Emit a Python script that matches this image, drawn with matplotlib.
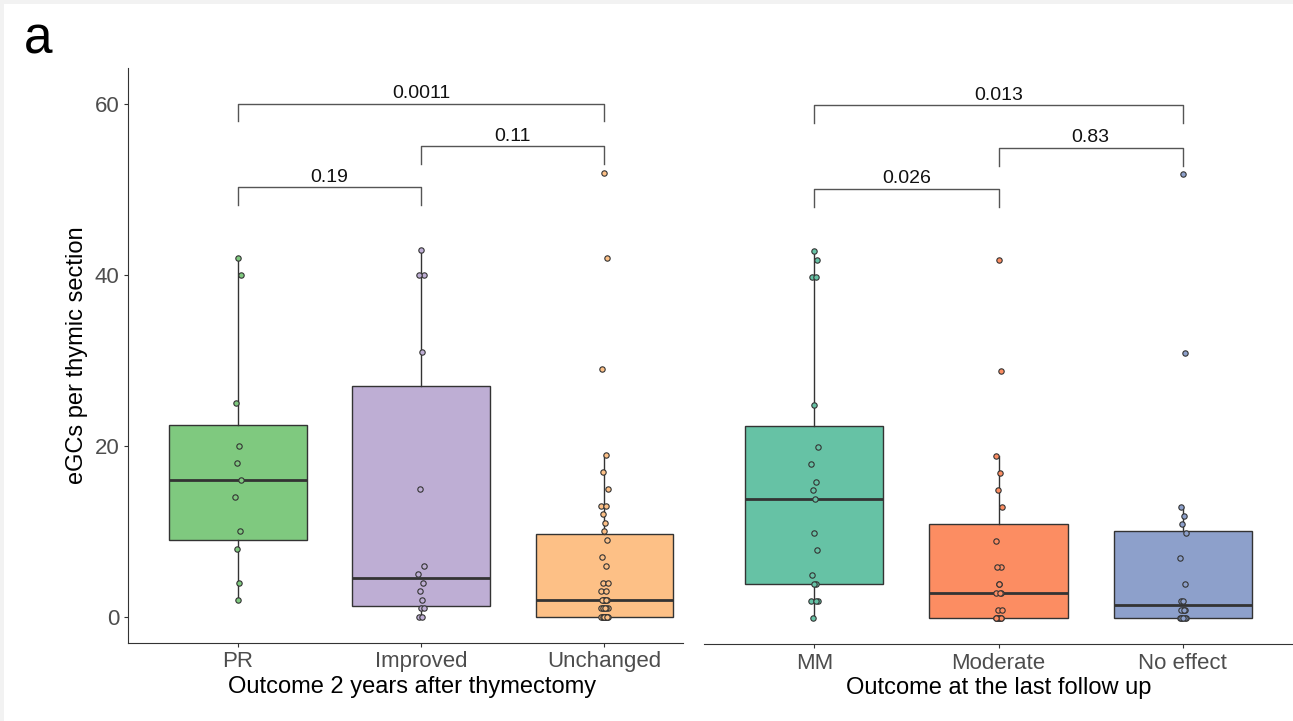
import numpy as np
import matplotlib
matplotlib.use("Agg")
import matplotlib.pyplot as plt
from matplotlib.patches import Rectangle

plt.rcParams['font.family'] = ['Liberation Sans', 'DejaVu Sans']

# eGC counts per group
pr_vals = [2, 4, 8, 10, 14, 16, 18, 20, 25, 40, 42]
improved_vals = [0, 0, 1, 1, 2, 3, 4, 5, 6, 15, 31, 40, 40, 43]
unchanged_vals = [0] * 12 + [1] * 6 + [2] * 6 + [3, 3, 4, 4, 6, 7, 9,
                                                 10, 11, 12, 13, 13, 15, 17, 19, 29, 42, 52]
mm_vals = [0, 2, 2, 2, 4, 4, 5, 8, 10, 14, 15, 16, 18, 20, 25, 40, 40, 42, 43]
moderate_vals = [0] * 7 + [1, 1, 3, 3, 3, 4, 4, 6, 6, 9, 13, 15, 17, 19, 29, 42]
noeffect_vals = [0] * 6 + [1] * 4 + [2, 2, 4, 7, 10, 11, 12, 13, 31, 52]

left_groups = ["PR", "Improved", "Unchanged"]
right_groups = ["MM", "Moderate", "No effect"]
left_colors = ["#7FC97F", "#BEAED4", "#FDC086"]
right_colors = ["#66C2A5", "#FC8D62", "#8DA0CB"]

# p-values: (group a, group b, label, bracket height)
left_pvals = [(1, 2, "0.19", 50.3), (2, 3, "0.11", 55.1), (1, 3, "0.0011", 60.1)]
right_pvals = [(1, 2, "0.026", 50.3), (2, 3, "0.83", 55.1), (1, 3, "0.013", 60.1)]

# fixed small horizontal spread for the points
jit = np.array([0.0, 0.014, -0.011, 0.007, -0.005, 0.018, -0.016, 0.011, -0.008, 0.003])


def draw_panel(ax, data, colors, names, pvals):
    bp = ax.boxplot(data, positions=[1, 2, 3], widths=0.75, patch_artist=True,
                    showfliers=False, showcaps=False, whis=1.5,
                    boxprops=dict(edgecolor="#333333", linewidth=1.0),
                    whiskerprops=dict(color="#333333", linewidth=1.0),
                    medianprops=dict(color="#333333", linewidth=2.0))
    for patch, c in zip(bp["boxes"], colors):
        patch.set_facecolor(c)
    for i, (vals, c) in enumerate(zip(data, colors)):
        vals = np.sort(np.array(vals))[::-1]
        xs = i + 1 + np.resize(jit, len(vals))
        ax.scatter(xs, vals, s=15, color=c, edgecolor="#333333", linewidth=0.8, zorder=5)
    for a, b, lab, h in pvals:
        ax.plot([a, a, b, b], [h - 2.1, h, h, h - 2.1], color="#555555", lw=1.0)
        ax.text((a + b) / 2, h + 0.15, lab, ha="center", va="bottom", fontsize=14, color="#111111")
    ax.set_xticks([1, 2, 3])
    ax.set_xticklabels(names, fontsize=16, color="#4D4D4D")
    ax.set_ylim(-3.06, 64.26)
    for s in ["top", "right"]:
        ax.spines[s].set_visible(False)
    ax.spines["bottom"].set_color("#333333")
    ax.tick_params(axis="both", direction="out", length=3, color="#333333", pad=3)


fig = plt.figure(figsize=(12.93, 7.21), dpi=100)
fig.patch.set_facecolor("#F2F2F2")
fig.add_artist(Rectangle((4 / 1293, 0), 1, 1 - 4 / 721, transform=fig.transFigure,
                         facecolor="white", edgecolor="none", zorder=0))

ax1 = fig.add_axes([128 / 1293, (721 - 643) / 721, 555 / 1293, 575 / 721])
ax2 = fig.add_axes([704 / 1293, (721 - 644.3) / 721, (1293 - 704) / 1293, 574.8 / 721])
for ax in (ax1, ax2):
    ax.patch.set_alpha(0)

draw_panel(ax1, [pr_vals, improved_vals, unchanged_vals], left_colors, left_groups, left_pvals)
draw_panel(ax2, [mm_vals, moderate_vals, noeffect_vals], right_colors, right_groups, right_pvals)

ax1.set_xlim(0.399, 3.43)
ax1.set_yticks([0, 20, 40, 60])
ax1.set_yticklabels(["0", "20", "40", "60"], fontsize=16, color="#4D4D4D")
ax1.spines["left"].set_color("#333333")
ax1.set_ylabel("eGCs per thymic section", fontsize=17, color="black")
ax1.yaxis.set_label_coords(-40 / 555, 0.5)
ax1.set_xlabel("Outcome 2 years after thymectomy", fontsize=17, color="black")
ax1.xaxis.set_label_coords((412 - 128) / 555, -0.057)

ax2.set_xlim(0.4, 3.6)
ax2.spines["left"].set_visible(False)
ax2.set_yticks([])
ax2.set_xlabel("Outcome at the last follow up", fontsize=17, color="black")
ax2.xaxis.set_label_coords(0.5, -0.057)

fig.text(24 / 1293, 1 - 54 / 721, "a", fontsize=37, color="black", ha="left", va="baseline")

fig.savefig("out.png", dpi=100, facecolor=fig.get_facecolor())
